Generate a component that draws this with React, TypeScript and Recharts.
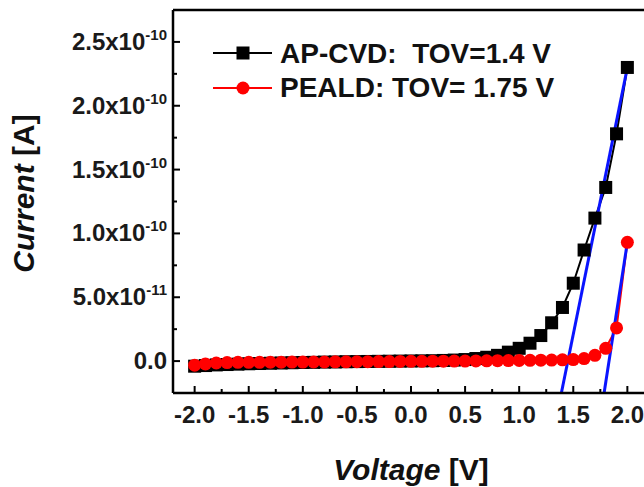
import React from "react";
import { LineChart, Line, XAxis, YAxis, ReferenceLine } from "recharts";

// current values in units of 1e-11 A
const VOLTAGE = [
  -2.0, -1.9, -1.8, -1.7, -1.6, -1.5, -1.4, -1.3, -1.2, -1.1, -1.0,
  -0.9, -0.8, -0.7, -0.6, -0.5, -0.4, -0.3, -0.2, -0.1, 0.0,
  0.1, 0.2, 0.3, 0.4, 0.5, 0.6, 0.7, 0.8, 0.9, 1.0,
  1.1, 1.2, 1.3, 1.4, 1.5, 1.6, 1.7, 1.8, 1.9, 2.0,
];
const AP_CVD = [
  -0.4, -0.35, -0.3, -0.27, -0.24, -0.21, -0.19, -0.17, -0.15, -0.13, -0.11,
  -0.1, -0.08, -0.07, -0.05, -0.04, -0.03, -0.02, -0.01, 0.0, 0.01,
  0.02, 0.03, 0.05, 0.08, 0.12, 0.2, 0.3, 0.45, 0.7, 1.0,
  1.4, 2.0, 3.0, 4.2, 6.1, 8.7, 11.2, 13.6, 17.8, 23.0,
];
const PEALD = [
  -0.32, -0.22, -0.15, -0.12, -0.1, -0.1, -0.1, -0.09, -0.09, -0.08, -0.08,
  -0.07, -0.07, -0.06, -0.06, -0.05, -0.05, -0.04, -0.04, -0.03, -0.02,
  -0.02, -0.01, -0.01, 0.0, 0.0, 0.01, 0.02, 0.03, 0.04, 0.05,
  0.06, 0.07, 0.08, 0.1, 0.12, 0.2, 0.45, 1.0, 2.6, 9.3,
];
const FIT_AP_CVD = [
  { v: 1.39, i: -2.5 },
  { v: 2.0, i: 23.0 },
];
const FIT_PEALD = [
  { v: 1.785, i: -2.5 },
  { v: 2.0, i: 9.3 },
];
const X_TICKS = [-2, -1.75, -1.5, -1.25, -1, -0.75, -0.5, -0.25, 0, 0.25, 0.5, 0.75, 1, 1.25, 1.5, 1.75, 2];
const Y_TICKS = [0, 2.5, 5, 7.5, 10, 12.5, 15, 17.5, 20, 22.5, 25];

const FONT = '"Liberation Sans", Arial, Helvetica, sans-serif';

const rows = VOLTAGE.map((v, k) => ({ v, ap: AP_CVD[k], peald: PEALD[k] }));

function XTick(props: any) {
  const { x, y, payload } = props;
  const val = payload.value as number;
  const major = Math.abs(val * 2 - Math.round(val * 2)) < 1e-6;
  return (
    <g>
      <line x1={x} x2={x} y1={y} y2={y - (major ? 7 : 4)} stroke="#000" strokeWidth={2} />
      {major && (
        <text x={x} y={y + 30} textAnchor="middle" fontFamily={FONT} fontWeight="bold" fontSize={24} fill="#1a1a1a">
          {val.toFixed(1)}
        </text>
      )}
    </g>
  );
}

function YTick(props: any) {
  const { x, y, payload } = props;
  const val = payload.value as number;
  const major = Math.abs(val / 5 - Math.round(val / 5)) < 1e-6;
  let label: React.ReactNode = null;
  if (major) {
    if (val === 0) {
      label = "0.0";
    } else {
      const [m, e] = (val * 1e-11).toExponential(1).split("e");
      label = (
        <>
          {m}x10
          <tspan dy={-10} fontSize={15}>{e}</tspan>
        </>
      );
    }
  }
  return (
    <g>
      <line x1={x} x2={x + (major ? 7 : 4)} y1={y} y2={y} stroke="#000" strokeWidth={2} />
      {major && (
        <text x={x - 6} y={y + 8} textAnchor="end" fontFamily={FONT} fontWeight="bold" fontSize={24} fill="#1a1a1a">
          {label}
        </text>
      )}
    </g>
  );
}

function XTitle(props: any) {
  const vb = props.viewBox;
  return (
    <text x={vb.x + vb.width / 2} y={vb.y + 87} textAnchor="middle" fontFamily={FONT} fontWeight="bold" fontSize={30} fill="#111">
      <tspan fontStyle="italic">Voltage</tspan> [V]
    </text>
  );
}

function YTitle(props: any) {
  const vb = props.viewBox;
  const cx = 34;
  const cy = vb.y + vb.height / 2 - 8;
  return (
    <text x={cx} y={cy} textAnchor="middle" transform={`rotate(-90, ${cx}, ${cy})`} fontFamily={FONT} fontWeight="bold" fontSize={30} fill="#111">
      <tspan fontStyle="italic">Current</tspan> [A]
    </text>
  );
}

const square = (p: any) => (
  <rect key={`sq-${p.index}`} x={p.cx - 6.5} y={p.cy - 6.5} width={13} height={13} fill="#000" />
);
const circle = (p: any) => (
  <circle key={`ci-${p.index}`} cx={p.cx} cy={p.cy} r={6.5} fill="#ff0000" />
);

export default function App() {
  return (
    <div style={{ position: "absolute", left: 0, top: 0, width: 644, height: 487, overflow: "hidden", background: "#fff" }}>
      <LineChart width={660} height={487} data={rows} margin={{ top: 10, right: 11, bottom: 0, left: 0 }}>
        <XAxis
          dataKey="v"
          type="number"
          domain={[-2.2, 2.2]}
          ticks={X_TICKS}
          interval={0}
          tick={<XTick />}
          tickSize={0}
          tickMargin={0}
          tickLine={false}
          axisLine={{ stroke: "#000", strokeWidth: 2.5 }}
          height={94}
          allowDataOverflow
          label={{ content: XTitle }}
        />
        <YAxis
          type="number"
          domain={[-2.5, 27.5]}
          ticks={Y_TICKS}
          interval={0}
          tick={<YTick />}
          tickSize={0}
          tickMargin={0}
          tickLine={false}
          axisLine={{ stroke: "#000", strokeWidth: 2.5 }}
          width={173}
          allowDataOverflow
          label={{ content: YTitle }}
        />
        <ReferenceLine y={27.5} stroke="#000" strokeWidth={2.5} ifOverflow="visible" />
        <ReferenceLine x={2.2} stroke="#000" strokeWidth={2.5} ifOverflow="visible" />
        <Line dataKey="ap" stroke="#000" strokeWidth={2} dot={square} activeDot={false} isAnimationActive={false} />
        <Line dataKey="peald" stroke="#ff0000" strokeWidth={2} dot={circle} activeDot={false} isAnimationActive={false} />
        <Line data={FIT_AP_CVD} dataKey="i" stroke="#0a14ff" strokeWidth={3} dot={false} activeDot={false} isAnimationActive={false} />
        <Line data={FIT_PEALD} dataKey="i" stroke="#0a14ff" strokeWidth={3} dot={false} activeDot={false} isAnimationActive={false} />
      </LineChart>
      <svg width={644} height={487} style={{ position: "absolute", left: 0, top: 0, pointerEvents: "none" }}>
        <line x1={213} x2={272} y1={53} y2={53} stroke="#000" strokeWidth={2} />
        <rect x={236.5} y={46.5} width={13} height={13} fill="#000" />
        <text x={280} y={63} fontFamily={FONT} fontWeight="bold" fontSize={28} fill="#111" style={{ whiteSpace: "pre" }}>
          {"AP-CVD:  TOV=1.4 V"}
        </text>
        <line x1={213} x2={272} y1={88} y2={88} stroke="#ff0000" strokeWidth={2} />
        <circle cx={243} cy={88} r={6.5} fill="#ff0000" />
        <text x={280} y={97} fontFamily={FONT} fontWeight="bold" fontSize={28} fill="#111">
          PEALD: TOV= 1.75 V
        </text>
      </svg>
    </div>
  );
}
